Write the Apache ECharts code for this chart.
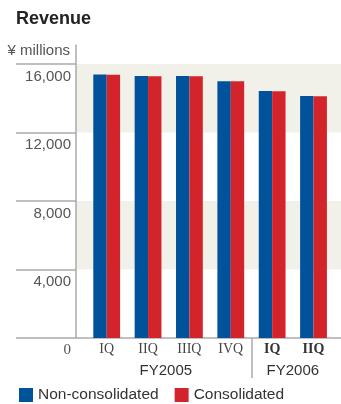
<!DOCTYPE html>
<html><head><meta charset="utf-8">
<script src="https://cdn.jsdelivr.net/npm/echarts@6/dist/echarts.min.js"></script>
<style>html,body{margin:0;padding:0;background:#fff}#c{width:341px;height:404px}</style>
</head><body><div id="c"></div>
<script>
const quarters = ['IQ','IIQ','IIIQ','IVQ','IQ','IIQ'];
const fiscalYears = ['FY2005','FY2006'];
const fyLabelPos = [1.43, 4.5];
const fySeparator = [3.5];
const nonConsolidated = [15380,15300,15300,15000,14420,14130];
const consolidated = [15370,15290,15290,14990,14410,14120];
const yMin = 0, yMax = 16000, yStep = 4000;

const grey = '#aaaaaa';
const chart = echarts.init(document.getElementById('c'));
chart.setOption({
  animation:false,
  title:{text:'Revenue',left:11,top:5,textStyle:{fontFamily:'Liberation Sans, Arial',fontSize:18,fontWeight:'bold',color:'#222'}},
  legend:{left:14,top:382,itemWidth:14,itemHeight:14,itemGap:16,icon:'rect',
    textStyle:{fontFamily:'Liberation Sans, Arial',fontSize:15.5,color:'#333'},
    data:['Non-consolidated','Consolidated']},
  grid:[
    {left:76,right:0,top:64,bottom:66},
    {left:86,right:6.8,top:64,bottom:66},
    {left:76,right:0,top:45,bottom:66}
  ],
  xAxis:[
    {gridIndex:0,type:'category',data:quarters,show:true,
      axisLine:{show:true,lineStyle:{color:grey,width:1.5}},axisTick:{show:false},axisLabel:{show:false},splitLine:{show:false}},
    {gridIndex:1,type:'category',data:quarters,
      axisLine:{show:false},axisTick:{show:false},
      axisLabel:{interval:0,margin:4,fontSize:14,color:'#444',fontFamily:'Liberation Serif, Times New Roman, serif',
        formatter:(v,i)=> i>=4 ? '{b|'+v+'}' : '{n|'+v+'}',
        rich:{n:{fontSize:14,color:'#444',fontFamily:'Liberation Serif, serif'},
              b:{fontSize:14,color:'#333',fontWeight:'bold',fontFamily:'Liberation Serif, serif'}}}},
    {gridIndex:1,type:'value',min:-0.5,max:5.5,position:'bottom',
      axisLine:{show:false},splitLine:{show:false},
      axisTick:{show:true,customValues:fySeparator,length:40,inside:false,lineStyle:{color:grey,width:1.5}},
      axisLabel:{show:true,customValues:fyLabelPos,margin:25,fontSize:15,color:'#333',fontFamily:'Liberation Sans, Arial',
        formatter:(v)=>{const k=fyLabelPos.indexOf(v);return k>=0?fiscalYears[k]:'';}}},
    {gridIndex:2,type:'value',show:false}
  ],
  yAxis:[
    {gridIndex:0,type:'value',min:yMin,max:yMax,interval:yStep,
      name:'¥ millions',nameLocation:'end',nameGap:13,
      nameTextStyle:{align:'right',verticalAlign:'middle',padding:[0,6,0,0],fontSize:15,color:'#555',fontFamily:'Liberation Sans, Arial'},
      axisLine:{show:false},
      axisTick:{show:true,inside:false,length:60,lineStyle:{color:grey,width:1.5}},
      splitLine:{show:false},
      splitArea:{show:true,areaStyle:{color:['#ffffff','#f2f1e9']}},
      axisLabel:{margin:5,verticalAlign:'top',padding:[5,0,0,0],fontSize:15,color:'#555',fontFamily:'Liberation Sans, Arial',
        formatter:(v)=> v===0 ? '{z|0}' : '{d|'+v.toLocaleString('en-US')+'}',
        rich:{z:{fontSize:15,color:'#555',fontFamily:'Liberation Serif, serif'},d:{fontSize:15,color:'#555',fontFamily:'Liberation Sans, Arial'}}}},
    {gridIndex:1,type:'value',min:yMin,max:yMax,interval:yStep,show:false},
    {gridIndex:2,type:'value',min:0,max:1,axisLine:{show:true,lineStyle:{color:grey,width:1.5}},
      axisTick:{show:false},axisLabel:{show:false},splitLine:{show:false}}
  ],
  series:[
    {name:'Non-consolidated',type:'bar',xAxisIndex:1,yAxisIndex:1,data:nonConsolidated,barWidth:13.4,barGap:'0%',itemStyle:{color:'#00529b'}},
    {name:'Consolidated',type:'bar',xAxisIndex:1,yAxisIndex:1,data:consolidated,barWidth:13.4,barGap:'0%',itemStyle:{color:'#d3242b'}}
  ]
});
</script></body></html>
